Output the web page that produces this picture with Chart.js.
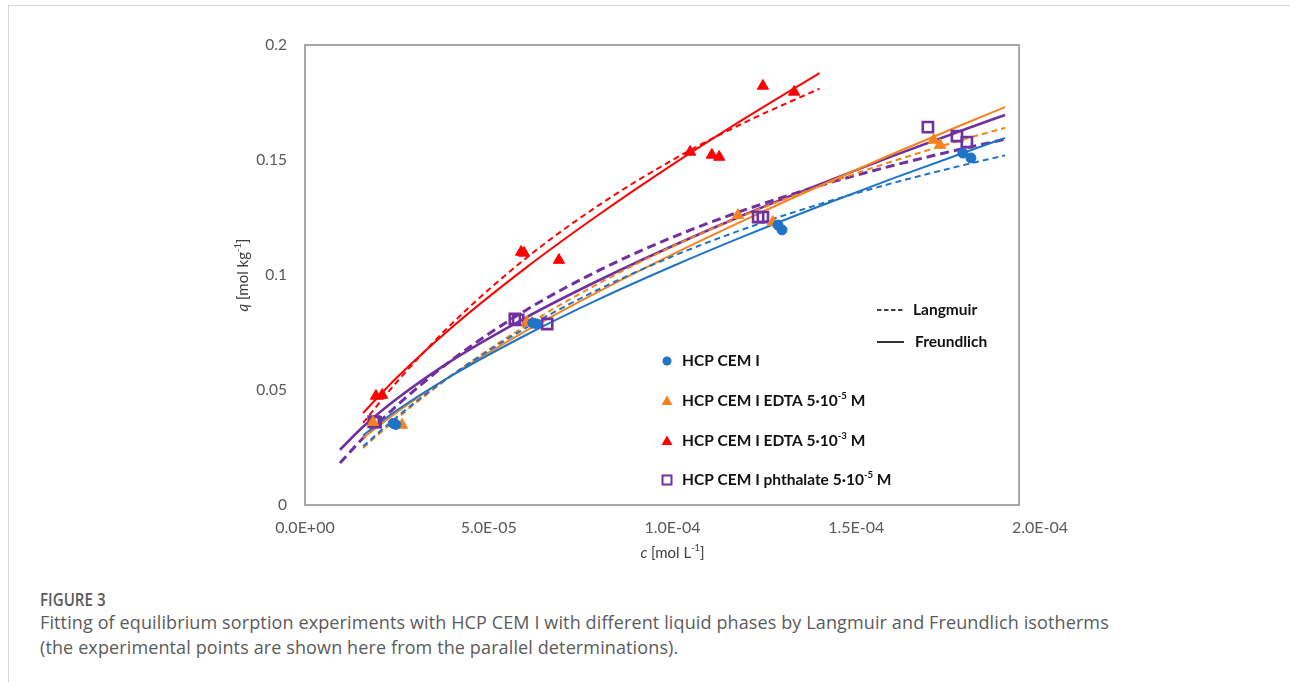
<!DOCTYPE html>
<html>
<head>
<meta charset="utf-8">
<script src="https://cdn.jsdelivr.net/npm/chart.js@4/dist/chart.umd.min.js"></script>
<style>
  html, body { margin: 0; padding: 0; background: #fff; width: 1290px; height: 682px; overflow: hidden; }
  #frame { position: absolute; left: 8px; top: 5px; width: 1400px; height: 800px; border-top: 1px solid #d6d6d6; border-left: 1px solid #d6d6d6; }
  #wrap { position: absolute; left: 0; top: 0; width: 1290px; height: 575px; }
  #fig { position: absolute; left: 40px; top: 587px; font-family: "Open Sans", sans-serif; font-size: 18px; font-weight: 600; color: #5b5b5b; transform: scaleX(0.84); transform-origin: left top; white-space: nowrap; }
  #cap { position: absolute; left: 40px; top: 610px; font-family: "Open Sans", sans-serif; font-size: 18px; line-height: 25px; letter-spacing: 0.12px; color: #5b5b5b; }
</style>
</head>
<body>
<div id="frame"></div>
<div id="wrap"><canvas id="c" width="1290" height="575"></canvas></div>
<div id="fig">FIGURE 3</div>
<div id="cap">Fitting of equilibrium sorption experiments with HCP CEM I with different liquid phases by Langmuir and Freundlich isotherms<br>(the experimental points are shown here from the parallel determinations).</div>
<script>
// ---------- data ----------
// experimental points: c [mol/L], q [mol/kg]
const cemI_c = [2.40e-5, 2.47e-5, 6.20e-5, 6.31e-5, 1.287e-4, 1.298e-4, 1.790e-4, 1.812e-4];
const cemI_q = [0.0355, 0.0350, 0.0791, 0.0787, 0.1217, 0.1196, 0.1530, 0.1509];

const edta5_c = [1.85e-5, 2.64e-5, 6.04e-5, 6.18e-5, 1.178e-4, 1.273e-4, 1.711e-4, 1.728e-4];
const edta5_q = [0.0360, 0.0348, 0.0796, 0.0791, 0.1260, 0.1230, 0.1587, 0.1565];

const edta3_c = [1.93e-5, 2.10e-5, 5.88e-5, 5.96e-5, 6.91e-5, 1.048e-4, 1.107e-4, 1.127e-4, 1.246e-4, 1.331e-4];
const edta3_q = [0.0474, 0.0478, 0.1100, 0.1096, 0.1065, 0.1535, 0.1522, 0.1513, 0.1822, 0.1796];

const phth_c = [1.87e-5, 1.92e-5, 5.71e-5, 5.80e-5, 6.59e-5, 1.233e-4, 1.246e-4, 1.695e-4, 1.774e-4, 1.801e-4];
const phth_q = [0.0362, 0.0360, 0.0809, 0.0805, 0.0787, 0.1252, 0.1252, 0.1643, 0.1604, 0.1578];

// fitted isotherm curves
const curve_c       = [1.58e-5, 2.5e-5, 4e-5, 6e-5, 8e-5, 1e-4, 1.2e-4, 1.4e-4, 1.6e-4, 1.8e-4, 1.905e-4];
const cemI_lang     = [0.0255, 0.0383, 0.0565, 0.0769, 0.0938, 0.1081, 0.1203, 0.1308, 0.1400, 0.1481, 0.1520];
const cemI_freu     = [0.0303, 0.0412, 0.0563, 0.0738, 0.0895, 0.1038, 0.1172, 0.1299, 0.1420, 0.1536, 0.1596];
const edta5_lang    = [0.0248, 0.0376, 0.0564, 0.0779, 0.0964, 0.1124, 0.1263, 0.1386, 0.1495, 0.1593, 0.1640];
const edta5_freu    = [0.0291, 0.0404, 0.0565, 0.0756, 0.0929, 0.1090, 0.1242, 0.1387, 0.1527, 0.1661, 0.1730];
const phth_curve_c  = [0.952e-5, 1.58e-5, 2.5e-5, 4e-5, 6e-5, 8e-5, 1e-4, 1.2e-4, 1.4e-4, 1.6e-4, 1.8e-4, 1.905e-4];
const phth_lang     = [0.0183, 0.0291, 0.0432, 0.0631, 0.0846, 0.1020, 0.1164, 0.1285, 0.1388, 0.1476, 0.1553, 0.1590];
const phth_freu     = [0.0240, 0.0340, 0.0462, 0.0629, 0.0814, 0.0977, 0.1126, 0.1265, 0.1394, 0.1518, 0.1636, 0.1696];
const red_curve_c   = [1.58e-5, 2.5e-5, 4e-5, 6e-5, 8e-5, 1e-4, 1.2e-4, 1.4e-4];
const edta3_lang    = [0.0357, 0.0535, 0.0789, 0.1071, 0.1304, 0.1500, 0.1666, 0.1810];
const edta3_freu    = [0.0400, 0.0554, 0.0773, 0.1030, 0.1263, 0.1480, 0.1684, 0.1878];

// axes
const xTicks = [0, 5e-5, 1e-4, 1.5e-4, 2e-4];
const yTicks = [0, 0.05, 0.1, 0.15, 0.2];
const seriesNames = ['HCP CEM I', 'HCP CEM I EDTA 5\u00b710', 'HCP CEM I EDTA 5\u00b710', 'HCP CEM I phthalate 5\u00b710'];
const seriesExp = ['', '-5', '-3', '-5'];

// ---------- styling ----------
const BLUE = '#1f74c6', ORANGE = '#f5821f', RED = '#ff0000', PURPLE = '#7030a0';
const PLOT_RIGHT_C = 1.943e-4; // where the plot frame ends

const pts = (cs, qs) => cs.map((c, i) => ({ x: c, y: qs[i] }));

function lineDS(cs, qs, color, dashed, width) {
  return {
    data: pts(cs, qs), showLine: true, borderColor: color, backgroundColor: color,
    borderWidth: width, borderDash: dashed ? (width > 2.4 ? [9, 5] : [6, 4]) : [],
    pointRadius: 0, pointHoverRadius: 0, tension: 0.4, cubicInterpolationMode: 'monotone',
    fill: false, order: 2
  };
}
function pointDS(cs, qs, color, style, r, filled) {
  return {
    data: pts(cs, qs), showLine: false, pointStyle: style, pointRadius: r,
    pointBackgroundColor: filled ? color : 'rgba(255,255,255,0)', pointBorderColor: color,
    pointBorderWidth: filled ? 1 : 2.6, order: 0
  };
}

function fmtE(v) {
  if (Math.abs(v) < 1e-12) return '0.0E+00';
  const [m, e] = v.toExponential(1).split('e');
  const n = parseInt(e, 10);
  return m + 'E' + (n < 0 ? '-' : '+') + String(Math.abs(n)).padStart(2, '0');
}

function richText(ctx, x, y, parts, size, weight, color, align) {
  const font = (p, s) => (p.it ? 'italic ' : '') + weight + ' ' + s + 'px Lato, sans-serif';
  let total = 0;
  parts.forEach(p => { ctx.font = font(p, p.sup ? size * 0.62 : size); total += ctx.measureText(p.t).width; });
  let cx = align === 'center' ? x - total / 2 : x;
  ctx.fillStyle = color; ctx.textBaseline = 'middle'; ctx.textAlign = 'left';
  parts.forEach(p => {
    const s = p.sup ? size * 0.62 : size;
    ctx.font = font(p, s);
    ctx.fillText(p.t, cx, p.sup ? y - size * 0.32 : y);
    cx += ctx.measureText(p.t).width;
  });
}

const deco = {
  id: 'deco',
  beforeDatasetsDraw(chart) {
    const { ctx, chartArea: a, scales: { x } } = chart;
    const r = x.getPixelForValue(PLOT_RIGHT_C);
    ctx.save();
    ctx.strokeStyle = '#8c8c8c'; ctx.lineWidth = 1.5;
    ctx.strokeRect(a.left, a.top, r - a.left, a.bottom - a.top);
    ctx.restore();
  },
  afterDraw(chart) {
    const { ctx, chartArea: a } = chart;
    ctx.save();
    ctx.save();
    ctx.translate(243, (a.top + a.bottom) / 2);
    ctx.rotate(-Math.PI / 2);
    richText(ctx, 0, 0, [{ t: 'q', it: true }, { t: ' [mol kg' }, { t: '-1', sup: true }, { t: ']' }], 15, 'normal', '#404040', 'center');
    ctx.restore();
    richText(ctx, (a.left + a.right) / 2, 553, [{ t: 'c', it: true }, { t: ' [mol L' }, { t: '-1', sup: true }, { t: ']' }], 15, 'normal', '#404040', 'center');

    ctx.strokeStyle = '#000'; ctx.lineWidth = 1.6;
    ctx.setLineDash([4.5, 2.5]);
    ctx.beginPath(); ctx.moveTo(877, 310); ctx.lineTo(904, 310); ctx.stroke();
    ctx.setLineDash([]);
    ctx.beginPath(); ctx.moveTo(877, 342); ctx.lineTo(904, 342); ctx.stroke();
    richText(ctx, 913, 310, [{ t: 'Langmuir' }], 15.5, 'bold', '#111', 'left');
    richText(ctx, 915, 342, [{ t: 'Freundlich' }], 15.5, 'bold', '#111', 'left');

    const rows = [361, 401, 441, 480];
    const mx = 667;
    ctx.fillStyle = BLUE;
    ctx.beginPath(); ctx.arc(mx, rows[0], 4.5, 0, Math.PI * 2); ctx.fill();
    [[ORANGE, rows[1]], [RED, rows[2]]].forEach(([col, yy]) => {
      ctx.fillStyle = col; ctx.beginPath();
      ctx.moveTo(mx, yy - 5.5); ctx.lineTo(mx + 5.5, yy + 4); ctx.lineTo(mx - 5.5, yy + 4); ctx.closePath(); ctx.fill();
    });
    ctx.strokeStyle = PURPLE; ctx.lineWidth = 2;
    ctx.strokeRect(mx - 4.5, rows[3] - 4.5, 9, 9);
    rows.forEach((yy, i) => {
      const parts = [{ t: seriesNames[i] }];
      if (seriesExp[i]) { parts.push({ t: seriesExp[i], sup: true }); parts.push({ t: ' M' }); }
      richText(ctx, 682, yy, parts, 15.5, 'bold', '#111', 'left');
    });
    ctx.restore();
  }
};

new Chart(document.getElementById('c'), {
  type: 'scatter',
  data: {
    datasets: [
      pointDS(cemI_c, cemI_q, BLUE, 'circle', 5, true),
      pointDS(edta5_c, edta5_q, ORANGE, 'triangle', 6.5, true),
      pointDS(edta3_c, edta3_q, RED, 'triangle', 6.5, true),
      pointDS(phth_c, phth_q, PURPLE, 'rect', 7.2, false),
      lineDS(curve_c, cemI_lang, BLUE, true, 2),
      lineDS(curve_c, cemI_freu, BLUE, false, 2),
      lineDS(curve_c, edta5_lang, ORANGE, true, 2),
      lineDS(curve_c, edta5_freu, ORANGE, false, 2),
      lineDS(red_curve_c, edta3_lang, RED, true, 2),
      lineDS(red_curve_c, edta3_freu, RED, false, 2),
      lineDS(phth_curve_c, phth_lang, PURPLE, true, 3),
      lineDS(phth_curve_c, phth_freu, PURPLE, false, 2.6)
    ]
  },
  options: {
    responsive: false, animation: false, devicePixelRatio: 1,
    layout: { padding: { left: 0, top: 45, right: 250, bottom: 0 } },
    plugins: { legend: { display: false }, tooltip: { enabled: false } },
    scales: {
      x: {
        type: 'linear', min: 0, max: 2e-4,
        afterBuildTicks: s => { s.ticks = xTicks.map(v => ({ value: v })); },
        afterFit: s => { s.height = 70; },
        grid: { display: false, drawTicks: false }, border: { display: false },
        ticks: { padding: 13, maxRotation: 0, autoSkip: false, color: '#595959', font: { family: 'Lato', size: 16 }, callback: v => fmtE(v) }
      },
      y: {
        type: 'linear', min: 0, max: 0.2,
        afterBuildTicks: s => { s.ticks = yTicks.map(v => ({ value: v })); },
        afterFit: s => { s.width = 305; },
        grid: { display: false, drawTicks: false }, border: { display: false },
        ticks: { padding: 18, autoSkip: false, color: '#595959', font: { family: 'Lato', size: 15.5 }, callback: v => String(+Number(v).toFixed(2)) }
      }
    }
  },
  plugins: [deco]
});
</script>
</body>
</html>
